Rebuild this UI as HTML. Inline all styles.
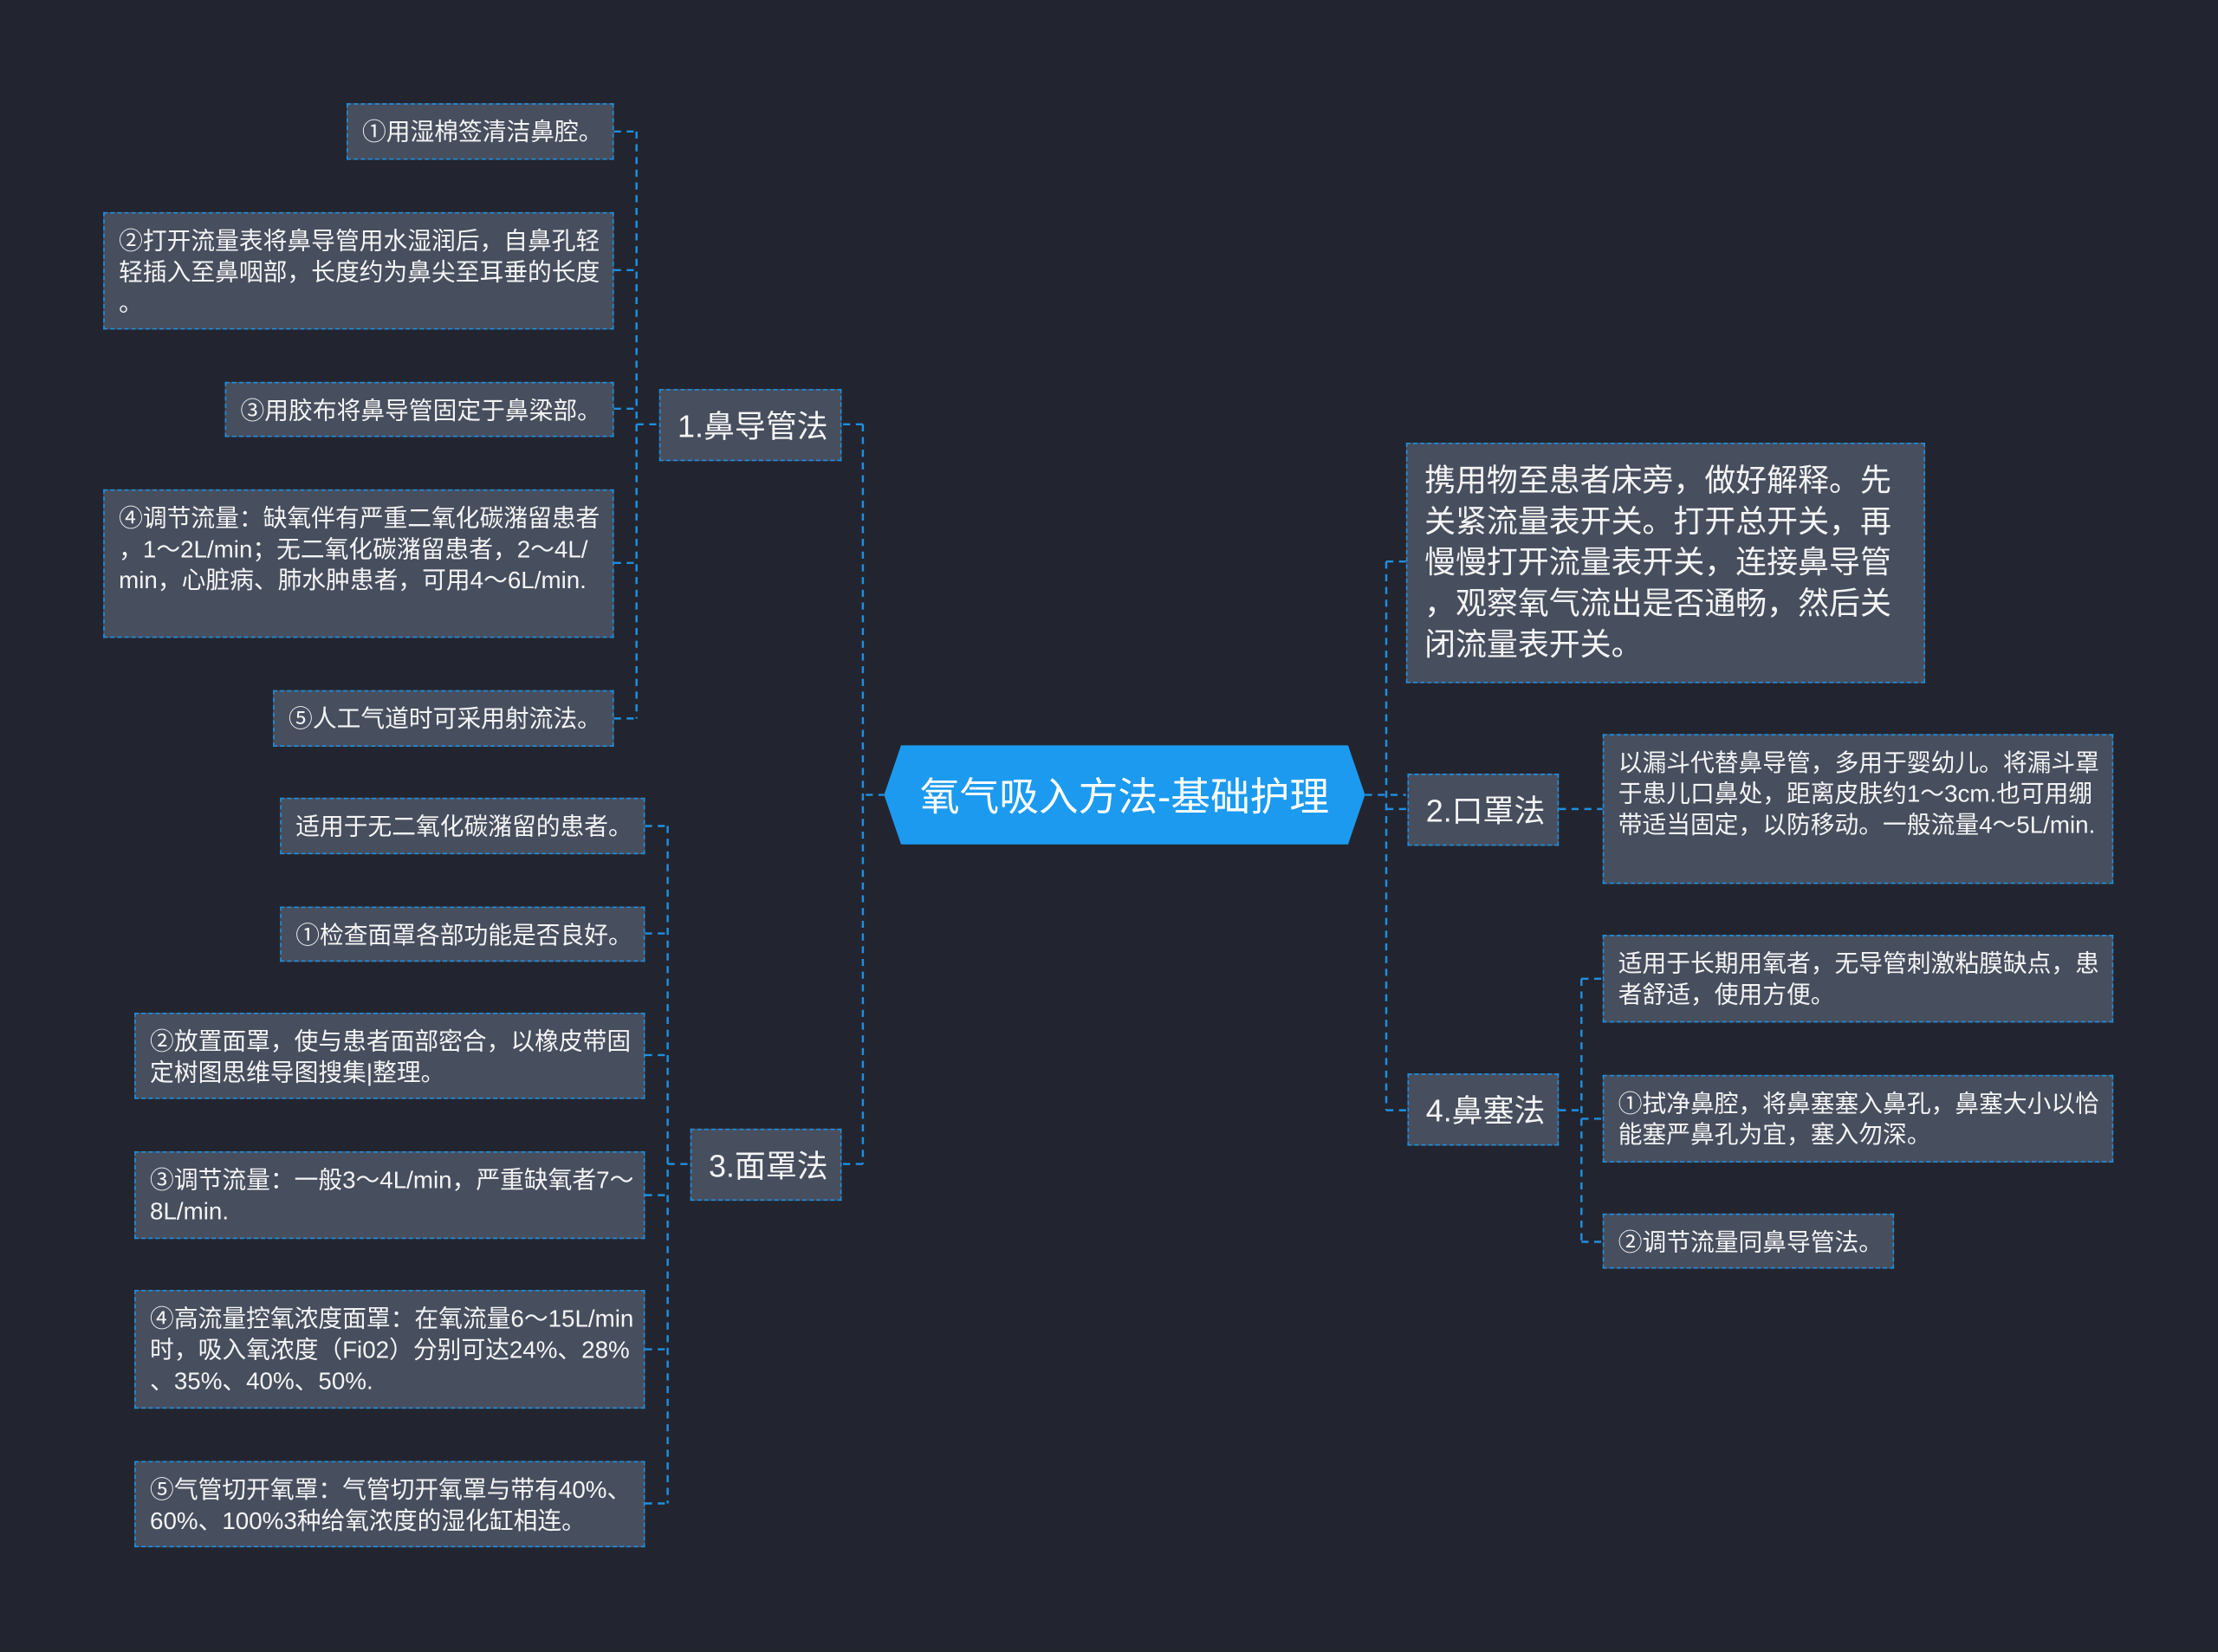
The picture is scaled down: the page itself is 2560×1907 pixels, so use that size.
<!DOCTYPE html>
<html><head><meta charset="utf-8">
<style>
html,body{margin:0;padding:0;background:#22252f;overflow:hidden}
#w{position:absolute;left:0;top:0;width:1568px;height:1168px;transform:scale(1.632653);transform-origin:0 0;background:#22252f;font-family:"Liberation Sans","Noto Sans CJK SC",sans-serif;color:#fff}
.n{position:absolute;box-sizing:border-box;background:#474e5e;border:1.5px dashed #1f8fe0;font-size:17px;line-height:22px;padding:9px 6px 0 10px;word-break:break-all;line-break:anywhere;color:#f4f4f4}
.m{font-size:22px;line-height:51px;padding:0 0 0 12px}
svg{position:absolute;left:0;top:0}
</style></head><body><div id="w">
<svg width="1568" height="1168" fill="none" stroke="#1f8fe0" stroke-width="1.5" stroke-dasharray="5,4">
<path d="M610 300V823M596 300H610M596 823H610M612 562H625"/>
<path d="M980 397V785M965 562H994M980 397H994M980 572H994M980 785H994"/>
<path d="M450 93V508M434 93H450M434 191H450M434 289H450M434 398H450M434 508H450M450 300H466"/>
<path d="M472 584V1063M456 584H472M456 660H472M456 746H472M456 845H472M456 954H472M456 1063H472M472 823H488"/>
<path d="M1102 572H1133"/>
<path d="M1118 692V878M1102 785H1118M1118 692H1133M1118 791H1133M1118 878H1133"/>
</svg>
<svg width="1568" height="1168"><polygon points="637,527 953,527 965,562 953,597 637,597 625,562" fill="#1c9aef"/>
<text x="795" y="573" fill="#fff" font-size="28" text-anchor="middle" font-family="Liberation Sans,Noto Sans CJK SC,sans-serif">氧气吸入方法-基础护理</text></svg>

<div class="n m" style="left:466px;top:275px;width:129px;height:51px">1.鼻导管法</div>
<div class="n" style="left:245px;top:73px;width:189px;height:40px">①用湿棉签清洁鼻腔。</div>
<div class="n" style="left:73px;top:150px;width:361px;height:83px">②打开流量表将鼻导管用水湿润后，自鼻孔轻轻插入至鼻咽部，长度约为鼻尖至耳垂的长度。</div>
<div class="n" style="left:159px;top:270px;width:275px;height:39px">③用胶布将鼻导管固定于鼻梁部。</div>
<div class="n" style="left:73px;top:346px;width:361px;height:105px">④调节流量：缺氧伴有严重二氧化碳潴留患者，1～2L/min；无二氧化碳潴留患者，2～4L/min，心脏病、肺水肿患者，可用4～6L/min.</div>
<div class="n" style="left:193px;top:488px;width:241px;height:40px">⑤人工气道时可采用射流法。</div>

<div class="n m" style="left:488px;top:798px;width:107px;height:51px">3.面罩法</div>
<div class="n" style="left:198px;top:564px;width:258px;height:40px">适用于无二氧化碳潴留的患者。</div>
<div class="n" style="left:198px;top:641px;width:258px;height:39px">①检查面罩各部功能是否良好。</div>
<div class="n" style="left:95px;top:716px;width:361px;height:61px">②放置面罩，使与患者面部密合，以橡皮带固定树图思维导图搜集|整理。</div>
<div class="n" style="left:95px;top:814px;width:361px;height:62px">③调节流量：一般3～4L/min，严重缺氧者7～8L/min.</div>
<div class="n" style="left:95px;top:912px;width:361px;height:84px">④高流量控氧浓度面罩：在氧流量6～15L/min时，吸入氧浓度（Fi02）分别可达24%、28%、35%、40%、50%.</div>
<div class="n" style="left:95px;top:1033px;width:361px;height:61px">⑤气管切开氧罩：气管切开氧罩与带有40%、60%、100%3种给氧浓度的湿化缸相连。</div>

<div class="n" style="left:994px;top:313px;width:367px;height:170px;font-size:22px;line-height:29px;padding:11px 2px 0 12px">携用物至患者床旁，做好解释。先关紧流量表开关。打开总开关，再慢慢打开流量表开关，连接鼻导管，观察氧气流出是否通畅，然后关闭流量表开关。</div>
<div class="n m" style="left:995px;top:547px;width:107px;height:51px">2.口罩法</div>
<div class="n" style="left:1133px;top:519px;width:361px;height:106px">以漏斗代替鼻导管，多用于婴幼儿。将漏斗罩于患儿口鼻处，距离皮肤约1～3cm.也可用绷带适当固定，以防移动。一般流量4～5L/min.</div>
<div class="n m" style="left:995px;top:759px;width:107px;height:51px">4.鼻塞法</div>
<div class="n" style="left:1133px;top:661px;width:361px;height:62px">适用于长期用氧者，无导管刺激粘膜缺点，患者舒适，使用方便。</div>
<div class="n" style="left:1133px;top:760px;width:361px;height:62px">①拭净鼻腔，将鼻塞塞入鼻孔，鼻塞大小以恰能塞严鼻孔为宜，塞入勿深。</div>
<div class="n" style="left:1133px;top:858px;width:206px;height:39px">②调节流量同鼻导管法。</div>
</div></body></html>
